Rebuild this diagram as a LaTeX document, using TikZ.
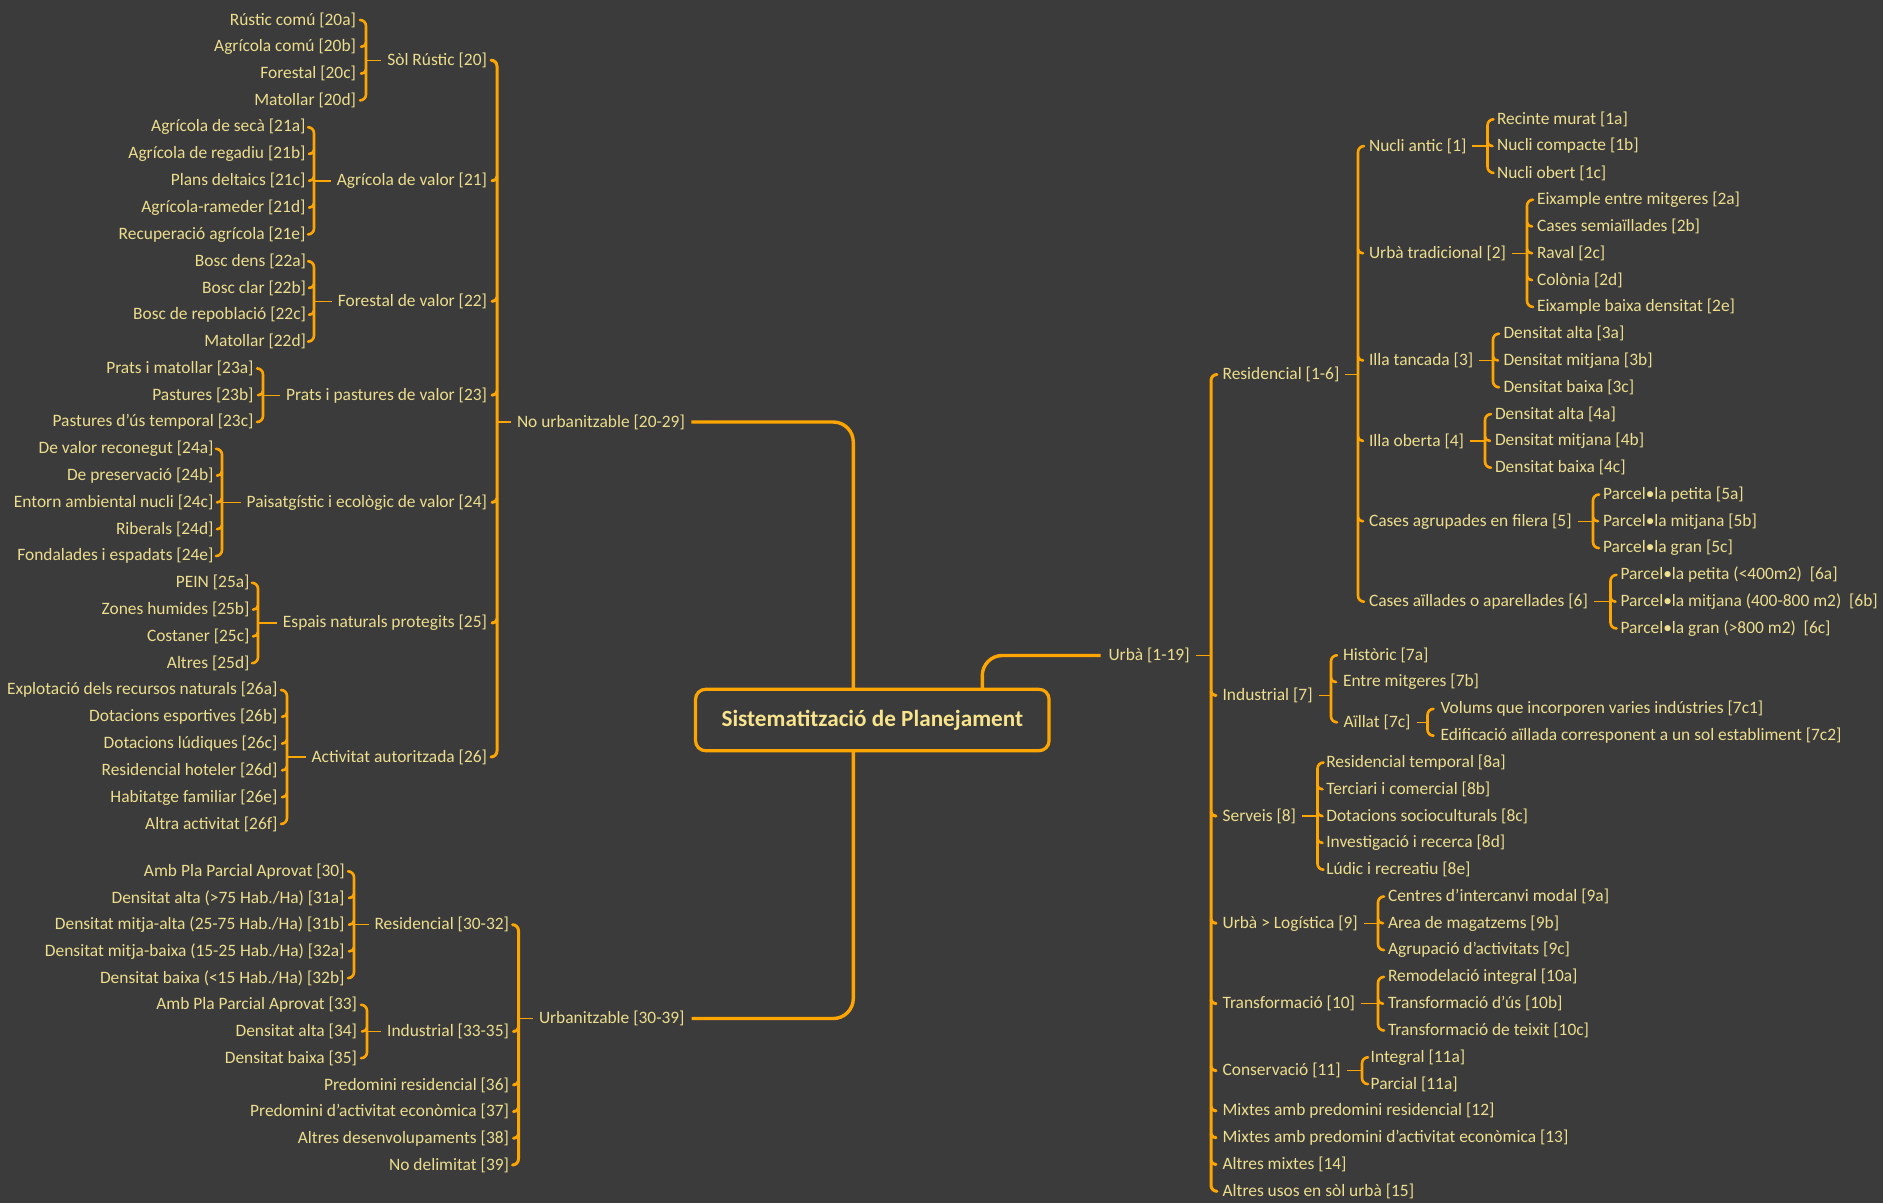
\documentclass[tikz,border=0pt]{standalone}
\usepackage{fontspec}
\setmainfont{Carlito}
\usetikzlibrary{calc}
\definecolor{bg}{RGB}{59,59,59}
\definecolor{org}{RGB}{255,165,0}
\definecolor{txt}{RGB}{236,222,142}
\definecolor{ctrtxt}{RGB}{248,228,140}
\tikzset{
  every node/.style={inner sep=0pt, outer sep=0pt, text=txt, font=\fontsize{17.4}{20}\selectfont},
  L/.style={anchor=east},
  R/.style={anchor=west},
  brk/.style={draw=org, line width=2.6pt, line cap=round},
  mbrk/.style={draw=org, line width=3pt, line cap=round},
  stub/.style={draw=org, line width=1.4pt},
  mainc/.style={draw=org, line width=3.4pt, rounded corners=20pt},
  ctrbox/.style={draw=org, line width=3.2pt, rounded corners=10pt, fill=bg,
    minimum width=353.5pt, minimum height=61.4pt, text=ctrtxt,
    font=\bfseries\fontsize{23.2}{26}\selectfont}
}
% left bracket: children on the left of xb, parent on the right
\newcommand{\brL}[5][brk]{%
  \draw[#1] let \p1=(#4.east), \p2=(#5.east) in
    (#2pt-6pt,\y1) to[out=0,in=90] (#2pt,\y1-6pt) -- (#2pt,\y2+6pt) to[out=-90,in=0] (#2pt-6pt,\y2);
  \draw[stub] let \p3=(#3.west) in (#2pt,\y3) -- (\x3-6pt,\y3);
}
% right bracket: children on the right of xb, parent on the left
\newcommand{\brR}[5][brk]{%
  \draw[#1] let \p1=(#4.west), \p2=(#5.west) in
    (#2pt+6pt,\y1) to[out=180,in=90] (#2pt,\y1-6pt) -- (#2pt,\y2+6pt) to[out=-90,in=180] (#2pt+6pt,\y2);
  \draw[stub] let \p3=(#3.east) in (\x3+6pt,\y3) -- (#2pt,\y3);
}
\newcommand{\tkL}[3][brk]{\draw[#1] let \p1=(#3.east) in (#2pt,\y1+4pt) to[out=-90,in=0] (#2pt-5pt,\y1);}
\newcommand{\tkR}[3][brk]{\draw[#1] let \p1=(#3.west) in (#2pt,\y1+4pt) to[out=-90,in=180] (#2pt+5pt,\y1);}

\begin{document}
\begin{tikzpicture}[x=1pt,y=-1pt]
\fill[bg] (0,0) rectangle (1883,1203);
\useasboundingbox (0,0) rectangle (1883,1203);

% ---------------- centre ----------------
\node[ctrbox] (ctr) at (872.3,720) {Sistematització de Planejament};

% ---------------- No urbanitzable ----------------
\node[R] (nu) at (517,422) {No urbanitzable [20-29]};

\node[L] (s20) at (487,60.2) {Sòl Rústic [20]};
\node[L] (s21) at (487,180.8) {Agrícola de valor [21]};
\node[L] (s22) at (487,301.4) {Forestal de valor [22]};
\node[L] (s23) at (487,395.2) {Prats i pastures de valor [23]};
\node[L] (s24) at (487,502.4) {Paisatgístic i ecològic de valor [24]};
\node[L] (s25) at (487,623.0) {Espais naturals protegits [25]};
\node[L] (s26) at (487,757.0) {Activitat autoritzada [26]};

\node[L] (n20a) at (356,20.0) {Rústic comú [20a]};
\node[L] (n20b) at (356,46.8) {Agrícola comú [20b]};
\node[L] (n20c) at (356,73.6) {Forestal [20c]};
\node[L] (n20d) at (356,100.4) {Matollar [20d]};
\node[L] (n21a) at (305.5,127.2) {Agrícola de secà [21a]};
\node[L] (n21b) at (305.5,154.0) {Agrícola de regadiu [21b]};
\node[L] (n21c) at (305.5,180.8) {Plans deltaics [21c]};
\node[L] (n21d) at (305.5,207.6) {Agrícola-rameder [21d]};
\node[L] (n21e) at (305.5,234.4) {Recuperació agrícola [21e]};
\node[L] (n22a) at (306,261.2) {Bosc dens [22a]};
\node[L] (n22b) at (306,288.0) {Bosc clar [22b]};
\node[L] (n22c) at (306,314.8) {Bosc de repoblació [22c]};
\node[L] (n22d) at (306,341.6) {Matollar [22d]};
\node[L] (n23a) at (253.5,368.4) {Prats i matollar [23a]};
\node[L] (n23b) at (253.5,395.2) {Pastures [23b]};
\node[L] (n23c) at (253.5,422.0) {Pastures d'ús temporal [23c]};
\node[L] (n24a) at (213.5,448.8) {De valor reconegut [24a]};
\node[L] (n24b) at (213.5,475.6) {De preservació [24b]};
\node[L] (n24c) at (213.5,502.4) {Entorn ambiental nucli [24c]};
\node[L] (n24d) at (213.5,529.2) {Riberals [24d]};
\node[L] (n24e) at (213.5,556.0) {Fondalades i espadats [24e]};
\node[L] (n25a) at (249.5,582.8) {PEIN [25a]};
\node[L] (n25b) at (249.5,609.6) {Zones humides [25b]};
\node[L] (n25c) at (249.5,636.4) {Costaner [25c]};
\node[L] (n25d) at (249.5,663.2) {Altres [25d]};
\node[L] (n26a) at (277.5,690.0) {Explotació dels recursos naturals [26a]};
\node[L] (n26b) at (277.5,716.8) {Dotacions esportives [26b]};
\node[L] (n26c) at (277.5,743.6) {Dotacions lúdiques [26c]};
\node[L] (n26d) at (277.5,770.4) {Residencial hoteler [26d]};
\node[L] (n26e) at (277.5,797.2) {Habitatge familiar [26e]};
\node[L] (n26f) at (277.5,824.0) {Altra activitat [26f]};

\brL[mbrk]{497}{nu}{s20}{s26}
\foreach \c in {s21,s22,s23,s24,s25} {\tkL[mbrk]{497}{\c}}
\brL{366}{s20}{n20a}{n20d}
\foreach \c in {n20b,n20c} {\tkL{366}{\c}}
\brL{314}{s21}{n21a}{n21e}
\foreach \c in {n21b,n21c,n21d} {\tkL{314}{\c}}
\brL{314}{s22}{n22a}{n22d}
\foreach \c in {n22b,n22c} {\tkL{314}{\c}}
\brL{263}{s23}{n23a}{n23c}
\foreach \c in {n23b} {\tkL{263}{\c}}
\brL{222}{s24}{n24a}{n24e}
\foreach \c in {n24b,n24c,n24d} {\tkL{222}{\c}}
\brL{258}{s25}{n25a}{n25d}
\foreach \c in {n25b,n25c} {\tkL{258}{\c}}
\brL{287}{s26}{n26a}{n26f}
\foreach \c in {n26b,n26c,n26d,n26e} {\tkL{287}{\c}}

% ---------------- Urbanitzable ----------------
\node[R] (uz) at (539,1018.5) {Urbanitzable [30-39]};
\node[L] (ur) at (509,924.7) {Residencial [30-32]};
\node[L] (ui) at (509,1031.5) {Industrial [33-35]};
\node[L] (u30) at (344.6,871.3) {Amb Pla Parcial Aprovat [30]};
\node[L] (u31a) at (344.6,898.0) {Densitat alta (>75 Hab./Ha) [31a]};
\node[L] (u31b) at (344.6,924.7) {Densitat mitja-alta (25-75 Hab./Ha) [31b]};
\node[L] (u32a) at (344.6,951.4) {Densitat mitja-baixa (15-25 Hab./Ha) [32a]};
\node[L] (u32b) at (344.6,978.1) {Densitat baixa (<15 Hab./Ha) [32b]};
\node[L] (u33) at (357,1004.8) {Amb Pla Parcial Aprovat [33]};
\node[L] (u34) at (357,1031.5) {Densitat alta [34]};
\node[L] (u35) at (357,1058.2) {Densitat baixa [35]};
\node[L] (u36) at (509,1084.9) {Predomini residencial [36]};
\node[L] (u37) at (509,1111.6) {Predomini d'activitat econòmica [37]};
\node[L] (u38) at (509,1138.3) {Altres desenvolupaments [38]};
\node[L] (u39) at (509,1165.0) {No delimitat [39]};

\brL[mbrk]{518.5}{uz}{ur}{u39}
\foreach \c in {ui,u36,u37,u38} {\tkL[mbrk]{518.5}{\c}}
\brL{354}{ur}{u30}{u32b}
\foreach \c in {u31a,u31b,u32a} {\tkL{354}{\c}}
\brL{367}{ui}{u33}{u35}
\foreach \c in {u34} {\tkL{367}{\c}}

% ---------------- Urbà ----------------
\node[R] (urba) at (1108.5,655.5) {Urbà [1-19]};

\node[R] (p1) at (1222.6,374.5) {Residencial [1-6]};
\node[R] (p7) at (1222.6,695.5) {Industrial [7]};
\node[R] (p8) at (1222.6,816.1) {Serveis [8]};
\node[R] (p9) at (1222.6,923.3) {Urbà > Logística [9]};
\node[R] (p10) at (1222.6,1003.7) {Transformació [10]};
\node[R] (p11) at (1222.6,1070.7) {Conservació [11]};
\node[R] (r12) at (1222.6,1110.9) {Mixtes amb predomini residencial [12]};
\node[R] (r13) at (1222.6,1137.7) {Mixtes amb predomini d'activitat econòmica [13]};
\node[R] (r14) at (1222.6,1164.5) {Altres mixtes [14]};
\node[R] (r15) at (1222.6,1191.3) {Altres usos en sòl urbà [15]};

\node[R] (q1) at (1369,146.1) {Nucli antic [1]};
\node[R] (q2) at (1369,253.3) {Urbà tradicional [2]};
\node[R] (q3) at (1369,360.5) {Illa tancada [3]};
\node[R] (q4) at (1369,440.9) {Illa oberta [4]};
\node[R] (q5) at (1369,521.3) {Cases agrupades en filera [5]};
\node[R] (q6) at (1369,601.7) {Cases aïllades o aparellades [6]};

\node[R] (r1a) at (1497,119.3) {Recinte murat [1a]};
\node[R] (r1b) at (1497,146.1) {Nucli compacte [1b]};
\node[R] (r1c) at (1497,172.9) {Nucli obert [1c]};
\node[R] (r2a) at (1537,199.7) {Eixample entre mitgeres [2a]};
\node[R] (r2b) at (1537,226.5) {Cases semiaïllades [2b]};
\node[R] (r2c) at (1537,253.3) {Raval [2c]};
\node[R] (r2d) at (1537,280.1) {Colònia [2d]};
\node[R] (r2e) at (1537,306.9) {Eixample baixa densitat [2e]};
\node[R] (r3a) at (1503.5,333.7) {Densitat alta [3a]};
\node[R] (r3b) at (1503.5,360.5) {Densitat mitjana [3b]};
\node[R] (r3c) at (1503.5,387.3) {Densitat baixa [3c]};
\node[R] (r4a) at (1495,414.1) {Densitat alta [4a]};
\node[R] (r4b) at (1495,440.9) {Densitat mitjana [4b]};
\node[R] (r4c) at (1495,467.7) {Densitat baixa [4c]};
\node[R] (r5a) at (1603,494.5) {Parcel•la petita [5a]};
\node[R] (r5b) at (1603,521.3) {Parcel•la mitjana [5b]};
\node[R] (r5c) at (1603,548.1) {Parcel•la gran [5c]};
\node[R] (r6a) at (1620.5,574.9) {Parcel•la petita (<400m2)~ [6a]};
\node[R] (r6b) at (1620.5,601.7) {Parcel•la mitjana (400-800 m2)~ [6b]};
\node[R] (r6c) at (1620.5,628.5) {Parcel•la gran (>800 m2)~ [6c]};

\node[R] (r7a) at (1343,655.3) {Històric [7a]};
\node[R] (r7b) at (1343,682.1) {Entre mitgeres [7b]};
\node[R] (r7c) at (1343.6,722.3) {Aïllat [7c]};
\node[R] (r7c1) at (1440.5,708.9) {Volums que incorporen varies indústries [7c1]};
\node[R] (r7c2) at (1440.5,735.7) {Edificació aïllada corresponent a un sol establiment [7c2]};

\node[R] (r8a) at (1326.3,762.5) {Residencial temporal [8a]};
\node[R] (r8b) at (1326.3,789.3) {Terciari i comercial [8b]};
\node[R] (r8c) at (1326.3,816.1) {Dotacions socioculturals [8c]};
\node[R] (r8d) at (1326.3,842.9) {Investigació i recerca [8d]};
\node[R] (r8e) at (1326.3,869.7) {Lúdic i recreatiu [8e]};
\node[R] (r9a) at (1388,896.5) {Centres d'intercanvi modal [9a]};
\node[R] (r9b) at (1388,923.3) {Area de magatzems [9b]};
\node[R] (r9c) at (1388,950.1) {Agrupació d'activitats [9c]};
\node[R] (r10a) at (1388,976.9) {Remodelació integral [10a]};
\node[R] (r10b) at (1388,1003.7) {Transformació d'ús [10b]};
\node[R] (r10c) at (1388,1030.5) {Transformació de teixit [10c]};
\node[R] (r11a) at (1370.7,1057.3) {Integral [11a]};
\node[R] (r11b) at (1370.7,1084.1) {Parcial [11a]};

\brR[mbrk]{1211}{urba}{p1}{r15}
\foreach \c in {p7,p8,p9,p10,p11,r12,r13,r14} {\tkR[mbrk]{1211}{\c}}
\brR{1358}{p1}{q1}{q6}
\foreach \c in {q2,q3,q4,q5} {\tkR{1358}{\c}}
\brR{1487.5}{q1}{r1a}{r1c}
\foreach \c in {r1b} {\tkR{1487.5}{\c}}
\brR{1527}{q2}{r2a}{r2e}
\foreach \c in {r2b,r2c,r2d} {\tkR{1527}{\c}}
\brR{1493}{q3}{r3a}{r3c}
\foreach \c in {r3b} {\tkR{1493}{\c}}
\brR{1485}{q4}{r4a}{r4c}
\foreach \c in {r4b} {\tkR{1485}{\c}}
\brR{1593}{q5}{r5a}{r5c}
\foreach \c in {r5b} {\tkR{1593}{\c}}
\brR{1610.5}{q6}{r6a}{r6c}
\foreach \c in {r6b} {\tkR{1610.5}{\c}}
\brR{1331}{p7}{r7a}{r7c}
\foreach \c in {r7b} {\tkR{1331}{\c}}
\brR{1427.5}{r7c}{r7c1}{r7c2}
\brR{1317.5}{p8}{r8a}{r8e}
\foreach \c in {r8b,r8c,r8d} {\tkR{1317.5}{\c}}
\brR{1378}{p9}{r9a}{r9c}
\foreach \c in {r9b} {\tkR{1378}{\c}}
\brR{1378}{p10}{r10a}{r10c}
\foreach \c in {r10b} {\tkR{1378}{\c}}
\brR{1362}{p11}{r11a}{r11b}

% ---------------- main connectors ----------------
\draw[mainc] ([xshift=6.5pt]nu.east) -| ([xshift=-19pt]ctr.north);
\draw[mainc] ([xshift=7pt]uz.east) -| ([xshift=-19pt]ctr.south);
\draw[mainc] ([xshift=110pt]ctr.north) |- ([xshift=-8pt]urba.west);
\end{tikzpicture}
\end{document}
